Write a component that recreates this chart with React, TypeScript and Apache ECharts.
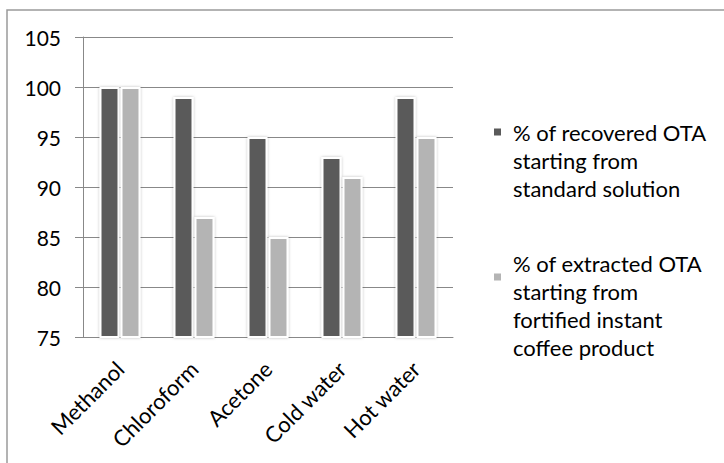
import React, { useEffect, useRef } from "react";
import * as echarts from "echarts";

const categories = ["Methanol", "Chloroform", "Acetone", "Cold water", "Hot water"];
const recovered = [100, 99, 95, 93, 99];
const extracted = [100, 87, 85, 91, 95];
const seriesNames = [
  "% of recovered OTA\nstarting from\nstandard solution",
  "% of extracted OTA\nstarting from\nfortified instant\ncoffee product",
];
const FONT = "Lato";

export default function App() {
  const ref = useRef<HTMLDivElement>(null);
  useEffect(() => {
    const chart = echarts.init(ref.current!, null, { renderer: "svg" });
    const icon = "path://M0,0h7v7h-7z M6.9,62.9h0.1v0.1h-0.1z";
    chart.setOption({
      animation: false,
      backgroundColor: "#fff",
      grid: { left: 83, right: 271, top: 37, bottom: 126 },
      legend: {
        orient: "vertical",
        left: 494,
        top: 118,
        padding: 0,
        itemGap: 47,
        itemWidth: 7,
        itemHeight: 63,
        selectedMode: false,
        itemStyle: { borderWidth: 0, shadowBlur: 0 },
        data: [
          { name: seriesNames[0], icon },
          { name: seriesNames[1], icon },
        ],
        textStyle: {
          fontFamily: FONT,
          fontSize: 22,
          color: "#000",
          lineHeight: 28,
          padding: [0, 0, 0, 7],
        },
      },
      xAxis: {
        type: "category",
        data: categories,
        axisLine: { lineStyle: { color: "#888", width: 1 } },
        axisTick: { length: 5, lineStyle: { color: "#888" } },
        axisLabel: {
          rotate: 45,
          interval: 0,
          margin: 28,
          fontFamily: FONT,
          fontSize: 22,
          color: "#000",
        },
      },
      yAxis: {
        type: "value",
        min: 75,
        max: 105,
        interval: 5,
        axisLine: { show: true, lineStyle: { color: "#888", width: 1 } },
        axisTick: { show: true, length: 8, lineStyle: { color: "#888" } },
        splitLine: { lineStyle: { color: "#888", width: 1 } },
        axisLabel: {
          margin: 22,
          fontFamily: FONT,
          fontSize: 21,
          color: "#000",
        },
      },
      series: [
        {
          name: seriesNames[0],
          type: "bar",
          data: recovered,
          barWidth: 20,
          barGap: "5%",
          itemStyle: {
            color: "#5a5a5a",
            borderColor: "#fff",
            borderWidth: 2,
            shadowBlur: 3,
            shadowColor: "rgba(0,0,0,0.25)",
          },
        },
        {
          name: seriesNames[1],
          type: "bar",
          data: extracted,
          barWidth: 20,
          itemStyle: {
            color: "#b4b4b4",
            borderColor: "#fff",
            borderWidth: 2,
            shadowBlur: 3,
            shadowColor: "rgba(0,0,0,0.25)",
          },
        },
      ],
      graphic: [
        {
          type: "rect",
          shape: { x: 7, y: 10, width: 740, height: 480 },
          style: { fill: "none", stroke: "#9a9a9a", lineWidth: 1.5 },
          silent: true,
        },
      ],
    });
    return () => chart.dispose();
  }, []);
  return <div ref={ref} style={{ width: 724, height: 463, position: "fixed", left: 0, top: 0 }} />;
}
